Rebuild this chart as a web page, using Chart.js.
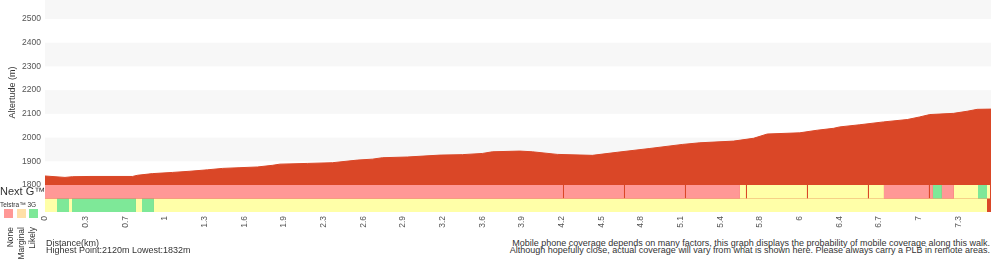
<!DOCTYPE html>
<html>
<head>
<meta charset="utf-8">
<script src="https://cdn.jsdelivr.net/npm/chart.js@4.4.1/dist/chart.umd.min.js"></script>
<style>
  html, body { margin: 0; padding: 0; background: #fff; }
  #wrap { position: relative; width: 1000px; height: 260px; overflow: hidden;
          font-family: "Liberation Sans", Arial, sans-serif; color: #333; }
  #plot { position: absolute; left: 0; top: 0; width: 1000px; height: 235px; }
  .note { position: absolute; top: 240px; font-size: 9px; line-height: 7px; white-space: nowrap; }
  .swatch { position: absolute; top: 209px; width: 9px; height: 9px; }
  .key { position: absolute; top: 226.5px; font-size: 8.5px; line-height: 10px; white-space: nowrap;
         transform-origin: 0 0; transform: rotate(-90deg) translate(-100%, -50%); }
</style>
</head>
<body>
<div id="wrap">
  <div id="plot"><canvas id="chart"></canvas></div>
  <div class="swatch" style="left:4px;background:#ff9896"></div>
  <div class="swatch" style="left:17px;background:#ffe0a8"></div>
  <div class="swatch" style="left:29px;background:#7ee898"></div>
  <div class="key" style="left:9.5px">None</div>
  <div class="key" style="left:20.5px">Marginal</div>
  <div class="key" style="left:32px">Likely</div>
  <div class="note" style="left:46px">Distance(km)<br>Highest Point:2120m Lowest:1832m</div>
  <div class="note" style="right:10px;text-align:right">Mobile phone coverage depends on many factors, this graph displays the probability of mobile coverage along this walk.<br>Although hopefully close, actual coverage will vary from what is shown here. Please always carry a PLB in remote areas.</div>
</div>
<script>
// elevation profile (km along track, metres)
const elevKm = [0, 0.16, 0.22, 0.36, 0.70, 0.74, 0.86, 1.02, 1.16, 1.30, 1.42, 1.56, 1.70, 1.82, 1.88, 2.10, 2.30, 2.50, 2.62, 2.70,
                2.90, 3.16, 3.34, 3.50, 3.58, 3.80, 3.90, 4.10, 4.38, 4.58, 4.84, 5.10, 5.24, 5.51, 5.67, 5.78, 6.04, 6.18, 6.31, 6.36,
                6.52, 6.71, 6.90, 7.00, 7.08, 7.27, 7.38, 7.46, 7.57];
const elevM = [1838, 1832, 1835, 1836, 1836, 1841, 1848, 1853, 1858, 1864, 1870, 1873, 1876, 1883, 1888, 1891, 1894, 1905, 1909, 1915,
               1918, 1926, 1928, 1933, 1940, 1943, 1940, 1929, 1925, 1938, 1954, 1971, 1978, 1985, 1997, 2015, 2020, 2031, 2039, 2045,
               2054, 2066, 2076, 2087, 2097, 2102, 2111, 2119, 2120];

// distance ticks
const xTickKm = [0, 0.326, 0.643, 0.960, 1.278, 1.596, 1.912, 2.230, 2.548, 2.865, 3.182, 3.500, 3.817, 4.135, 4.452, 4.769,
                 5.087, 5.404, 5.721, 6.039, 6.357, 6.674, 6.991, 7.309];
const xTickLabels = ['0', '0.3', '0.7', '1', '1.3', '1.6', '1.9', '2.3', '2.6', '2.9', '3.2', '3.6', '3.9', '4.2', '4.5', '4.8',
                     '5.1', '5.4', '5.8', '6', '6.4', '6.7', '7', '7.3'];
const yTicks = [1800, 1900, 2000, 2100, 2200, 2300, 2400, 2500];
const shadedBands = [[1900, 2000], [2100, 2200], [2300, 2400], [2500, 2580]];

// coverage: [from km, to km, level]  level 0 = none, 1 = marginal, 2 = likely
const coverageLevels = ['None', 'Marginal', 'Likely'];
const coverageColors = ['#ff9896', '#ffffa8', '#7ee898'];
const nextGSegments = [
  [0, 4.145, 0], [4.153, 4.633, 0], [4.641, 5.121, 0], [5.129, 5.561, 0], [5.561, 5.609, 1], [5.617, 6.097, 1],
  [6.105, 6.585, 1], [6.593, 6.713, 1], [6.713, 7.073, 0], [7.081, 7.105, 0], [7.105, 7.177, 2], [7.177, 7.273, 0],
  [7.273, 7.466, 1], [7.466, 7.538, 2], [7.538, 7.562, 1]
];
const threeGSegments = [
  [0, 0.096, 1], [0.096, 0.192, 2], [0.192, 0.216, 1], [0.216, 0.728, 2], [0.728, 0.776, 1], [0.776, 0.872, 2], [0.872, 7.538, 1]
];
const coverageRows = ['Telstra™ 3G', 'Next G™'];

Chart.defaults.font.family = '"Liberation Sans", Arial, sans-serif';

function coverageSet(seg, row) {
  return {
    data: [{x: seg[0], y: row}, {x: seg[1], y: row}],
    yAxisID: 'yCov',
    fill: {value: row + 1},
    backgroundColor: coverageColors[seg[2]],
    borderColor: 'rgba(0,0,0,0)',
    borderWidth: 0,
    pointRadius: 0,
    order: 0
  };
}

const datasets = [];
nextGSegments.forEach(s => datasets.push(coverageSet(s, 1)));
threeGSegments.forEach(s => datasets.push(coverageSet(s, 0)));
datasets.push({
  label: 'Altitude',
  data: elevKm.map((k, i) => ({x: k, y: elevM[i]})),
  yAxisID: 'y',
  fill: {value: 1600},
  backgroundColor: '#da4727',
  borderColor: '#da4727',
  borderWidth: 1,
  pointRadius: 0,
  tension: 0,
  order: 1
});

const altBands = {
  id: 'altBands',
  beforeDatasetsDraw(chart) {
    const {ctx, chartArea, scales} = chart;
    ctx.save();
    ctx.fillStyle = '#f7f7f7';
    shadedBands.forEach(([lo, hi]) => {
      const top = scales.y.getPixelForValue(hi);
      const bottom = scales.y.getPixelForValue(lo);
      ctx.fillRect(chartArea.left, top, chartArea.right - chartArea.left, bottom - top);
    });
    ctx.restore();
  }
};

// no automatic label padding around the plot
function fixSide(s) {
  s.width = 45;
  s.paddingTop = 0;
  s.paddingBottom = 0;
}

new Chart(document.getElementById('chart'), {
  type: 'line',
  data: {datasets: datasets},
  plugins: [altBands],
  options: {
    responsive: true,
    maintainAspectRatio: false,
    animation: false,
    layout: {autoPadding: false, padding: {left: 0, right: 9, top: 0, bottom: 0}},
    plugins: {legend: {display: false}, tooltip: {enabled: false}},
    scales: {
      x: {
        type: 'linear', min: 0, max: 7.57,
        grid: {display: false, drawTicks: false},
        border: {display: false},
        afterBuildTicks: s => { s.ticks = xTickKm.map(v => ({value: v})); },
        afterFit: s => { s.height = 23; s.paddingLeft = 0; s.paddingRight = 0; },
        ticks: {
          autoSkip: false, minRotation: 90, maxRotation: 90, padding: 4,
          color: '#555', font: {size: 8.5},
          callback: (v, i) => xTickLabels[i]
        }
      },
      y: {
        type: 'linear', position: 'left', stack: 'alt', stackWeight: 185, weight: 1,
        min: 1800, max: 2580, clip: false,
        grid: {display: false, drawTicks: false},
        border: {display: false},
        afterBuildTicks: s => { s.ticks = yTicks.map(v => ({value: v})); },
        afterFit: fixSide,
        ticks: {autoSkip: false, padding: 4, color: '#555', font: {size: 8.5}, callback: v => String(v)},
        title: {display: true, text: 'Altertude (m)', color: '#333', font: {size: 9}, padding: {top: 7, bottom: 0}}
      },
      yCov: {
        type: 'linear', position: 'left', stack: 'alt', stackWeight: 27, weight: 0,
        min: 0, max: 2, clip: false,
        grid: {display: false, drawTicks: false},
        border: {display: false},
        afterBuildTicks: s => { s.ticks = [{value: 0.5}, {value: 1.5}]; },
        afterFit: fixSide,
        ticks: {
          autoSkip: false, crossAlign: 'far', color: '#333',
          font: c => ({size: c.index === 1 ? 11 : 6.5}),
          callback: (v, i) => coverageRows[i]
        }
      }
    }
  }
});
</script>
</body>
</html>
